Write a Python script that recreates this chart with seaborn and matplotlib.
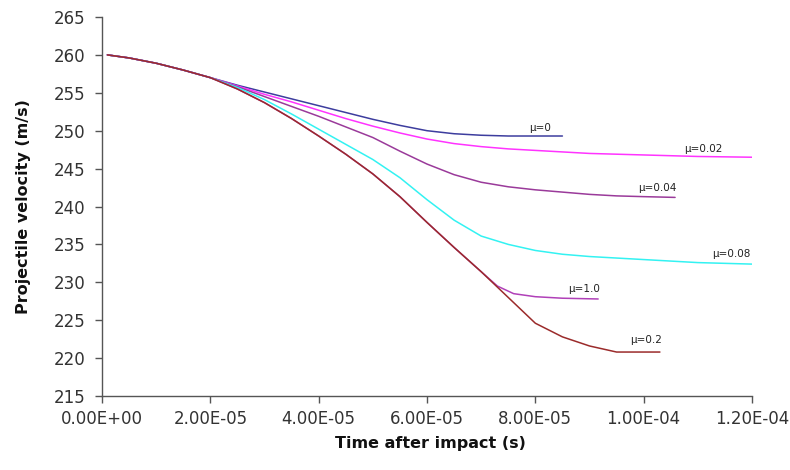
import numpy as np
import pandas as pd
import matplotlib
matplotlib.use("Agg")
import matplotlib.pyplot as plt
from matplotlib.ticker import FixedLocator, FixedFormatter
import seaborn as sns

# ---- data (time in seconds, velocity in m/s) ----
t_mu0 = [0.1e-5, 0.5e-5, 1.0e-5, 1.5e-5, 2.0e-5, 2.5e-5, 3.0e-5, 3.5e-5, 4.0e-5, 4.5e-5,
         5.0e-5, 5.5e-5, 6.0e-5, 6.5e-5, 7.0e-5, 7.5e-5, 8.0e-5, 8.5e-5]
v_mu0 = [260.0, 259.6, 258.9, 258.0, 257.0, 256.0, 255.1, 254.2, 253.3, 252.4,
         251.5, 250.7, 250.0, 249.6, 249.4, 249.3, 249.3, 249.3]

t_mu002 = [0.1e-5, 0.5e-5, 1.0e-5, 1.5e-5, 2.0e-5, 2.5e-5, 3.0e-5, 3.5e-5, 4.0e-5, 4.5e-5,
           5.0e-5, 5.5e-5, 6.0e-5, 6.5e-5, 7.0e-5, 7.5e-5, 8.0e-5, 8.5e-5, 9.0e-5, 10.0e-5,
           11.0e-5, 12.0e-5]
v_mu002 = [260.0, 259.6, 258.9, 258.0, 257.0, 255.9, 254.8, 253.8, 252.7, 251.6,
           250.6, 249.7, 248.9, 248.3, 247.9, 247.6, 247.4, 247.2, 247.0, 246.8,
           246.6, 246.5]

t_mu004 = [0.1e-5, 0.5e-5, 1.0e-5, 1.5e-5, 2.0e-5, 2.5e-5, 3.0e-5, 3.5e-5, 4.0e-5, 4.5e-5,
           5.0e-5, 5.5e-5, 6.0e-5, 6.5e-5, 7.0e-5, 7.5e-5, 8.0e-5, 8.5e-5, 9.0e-5, 9.5e-5,
           10.0e-5, 10.58e-5]
v_mu004 = [260.0, 259.6, 258.9, 258.0, 257.0, 255.8, 254.5, 253.2, 251.9, 250.5,
           249.1, 247.3, 245.6, 244.2, 243.2, 242.6, 242.2, 241.9, 241.6, 241.4,
           241.3, 241.2]

t_mu008 = [0.1e-5, 0.5e-5, 1.0e-5, 1.5e-5, 2.0e-5, 2.5e-5, 3.0e-5, 3.5e-5, 4.0e-5, 4.5e-5,
           5.0e-5, 5.5e-5, 6.0e-5, 6.5e-5, 7.0e-5, 7.5e-5, 8.0e-5, 8.5e-5, 9.0e-5, 10.0e-5,
           11.0e-5, 12.0e-5]
v_mu008 = [260.0, 259.6, 258.9, 258.0, 257.0, 255.7, 254.1, 252.2, 250.2, 248.2,
           246.2, 243.8, 240.9, 238.2, 236.1, 235.0, 234.2, 233.7, 233.4, 233.0,
           232.6, 232.4]

t_mu1 = [0.1e-5, 0.5e-5, 1.0e-5, 1.5e-5, 2.0e-5, 2.5e-5, 3.0e-5, 3.5e-5, 4.0e-5, 4.5e-5,
         5.0e-5, 5.5e-5, 6.0e-5, 6.5e-5, 7.0e-5, 7.3e-5, 7.6e-5, 8.0e-5, 8.5e-5, 9.16e-5]
v_mu1 = [260.0, 259.6, 258.9, 258.0, 257.0, 255.5, 253.7, 251.6, 249.3, 246.9,
         244.3, 241.3, 237.9, 234.6, 231.4, 229.5, 228.5, 228.1, 227.9, 227.8]

t_mu02 = [0.1e-5, 0.5e-5, 1.0e-5, 1.5e-5, 2.0e-5, 2.5e-5, 3.0e-5, 3.5e-5, 4.0e-5, 4.5e-5,
          5.0e-5, 5.5e-5, 6.0e-5, 6.5e-5, 7.0e-5, 7.5e-5, 8.0e-5, 8.5e-5, 9.0e-5, 9.5e-5,
          10.3e-5]
v_mu02 = [260.0, 259.6, 258.9, 258.0, 257.0, 255.5, 253.7, 251.6, 249.3, 246.9,
          244.3, 241.3, 237.9, 234.6, 231.4, 228.0, 224.6, 222.8, 221.6, 220.8,
          220.8]

series_names = ["μ=0", "μ=0.02", "μ=0.04", "μ=0.08", "μ=1.0", "μ=0.2"]
series_t = [t_mu0, t_mu002, t_mu004, t_mu008, t_mu1, t_mu02]
series_v = [v_mu0, v_mu002, v_mu004, v_mu008, v_mu1, v_mu02]
series_colors = ["#3d3d9e", "#ff33ff", "#9a3a9a", "#33f2f2", "#b040b8", "#9b2b2b"]

# label anchor positions (data coords)
label_t = [8.09e-5, 11.11e-5, 10.26e-5, 11.61e-5, 8.9e-5, 10.04e-5]
label_v = [250.35, 247.6, 242.45, 233.7, 229.1, 222.4]

x_ticks = [0.0, 2e-5, 4e-5, 6e-5, 8e-5, 1.0e-4, 1.2e-4]
x_tick_labels = ["0.00E+00", "2.00E-05", "4.00E-05", "6.00E-05", "8.00E-05", "1.00E-04", "1.20E-04"]
y_ticks = [215, 220, 225, 230, 235, 240, 245, 250, 255, 260, 265]

# ---- build long table ----
rows = []
for name, ts, vs in zip(series_names, series_t, series_v):
    for t, v in zip(ts, vs):
        rows.append({"t": t, "v": v, "mu": name})
df = pd.DataFrame(rows)

sns.set_style("white")
plt.rcParams["font.family"] = ["DejaVu Sans"]

fig = plt.figure(figsize=(7.9, 4.7), dpi=100)
ax = fig.add_axes([102 / 790, 1 - 396 / 470, 650 / 790, 379 / 470])

sns.lineplot(data=df, x="t", y="v", hue="mu", hue_order=series_names,
             palette=dict(zip(series_names, series_colors)), estimator=None,
             sort=False, legend=False, linewidth=1.1, ax=ax)

for name, tx, vy in zip(series_names, label_t, label_v):
    ax.text(tx, vy, name, ha="center", va="center", fontsize=7.5, color="#222222")

ax.set_xlim(0, 1.2e-4)
ax.set_ylim(215, 265)
ax.xaxis.set_major_locator(FixedLocator(x_ticks))
ax.xaxis.set_major_formatter(FixedFormatter(x_tick_labels))
ax.set_yticks(y_ticks)

for s in ["top", "right"]:
    ax.spines[s].set_visible(False)
for s in ["left", "bottom"]:
    ax.spines[s].set_color("#555555")
    ax.spines[s].set_linewidth(1.0)

ax.tick_params(axis="both", direction="out", length=5, width=1.0, color="#555555",
               labelsize=12, labelcolor="#333333")
ax.tick_params(axis="y", pad=7)
ax.tick_params(axis="x", pad=5)
ax.tick_params(left=True, bottom=True)

ax.set_xlabel("Time after impact (s)", fontsize=11.5, fontweight="bold", color="#111111")
ax.set_ylabel("Projectile velocity (m/s)", fontsize=11.5, fontweight="bold", color="#111111")
ax.xaxis.set_label_coords((430 - 102) / 650, (396 - 436) / 379)
ax.yaxis.set_label_coords((31 - 102) / 650, (396 - 207) / 379)
ax.grid(False)

fig.savefig("out.png", dpi=100)
